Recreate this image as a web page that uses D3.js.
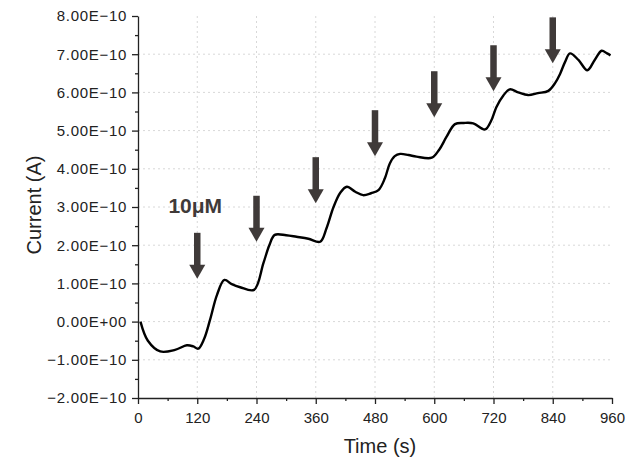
<!DOCTYPE html>
<html>
<head>
<meta charset="utf-8">
<script src="https://cdn.jsdelivr.net/npm/d3@7"></script>
<style>
  body { margin: 0; background: #fff; }
  text { font-family: "Liberation Sans", Arial, sans-serif; }
</style>
</head>
<body>
<div id="chart"></div>
<script>
// time (s) and current (units of 1e-10 A)
const times = [5, 20, 45, 75, 99, 112, 122, 134, 146, 160, 175, 190, 207, 235, 254, 266, 277, 300, 321, 345, 369, 382, 396, 410, 423, 440, 456, 472, 487, 500, 510, 520, 531, 548, 564, 595, 610, 625, 642, 660, 679, 703, 715, 726, 740, 753, 770, 790, 810, 831, 845, 855, 865, 875, 892, 910, 925, 939, 950, 957];
const current = [0.0, -0.5, -0.78, -0.74, -0.62, -0.65, -0.71, -0.45, 0.05, 0.7, 1.09, 0.98, 0.9, 0.83, 1.53, 2.0, 2.27, 2.26, 2.22, 2.17, 2.09, 2.45, 3.0, 3.38, 3.53, 3.4, 3.31, 3.36, 3.44, 3.75, 4.14, 4.33, 4.39, 4.36, 4.32, 4.29, 4.5, 4.84, 5.17, 5.2, 5.19, 5.03, 5.25, 5.62, 5.92, 6.08, 6.0, 5.93, 5.98, 6.04, 6.25, 6.49, 6.8, 7.02, 6.85, 6.58, 6.85, 7.09, 7.02, 6.97];

// injection arrows: time and value at the arrow tip (1e-10 A)
const arrowTimes = [120, 240, 360, 480, 600, 720, 840];
const arrowTips = [1.12, 2.09, 3.1, 4.33, 5.35, 6.03, 6.76];

const xTicks = [0, 120, 240, 360, 480, 600, 720, 840, 960];
const yTicks = [-2, -1, 0, 1, 2, 3, 4, 5, 6, 7, 8];
const yTickLabels = ["\u22122.00E\u221210", "\u22121.00E\u221210", "0.00E+00", "1.00E\u221210", "2.00E\u221210",
  "3.00E\u221210", "4.00E\u221210", "5.00E\u221210", "6.00E\u221210", "7.00E\u221210", "8.00E\u221210"];

const W = 643, H = 460;
const margin = { top: 16, right: 31, bottom: 62, left: 138 };
const width = W - margin.left - margin.right,
    height = H - margin.top - margin.bottom;

const svg = d3.select("#chart").append("svg")
    .attr("width", W)
    .attr("height", H)
    .append("g")
    .attr("transform", "translate(" + margin.left + "," + margin.top + ")");

const x = d3.scaleLinear().domain([0, 960]).range([0, width]);
const y = d3.scaleLinear().domain([-2, 8]).range([height, 0]);

// dotted grid
svg.append("g").selectAll("line")
    .data(xTicks.filter(d => d > 0 && d < 960))
    .enter().append("line")
    .attr("x1", d => x(d)).attr("x2", d => x(d))
    .attr("y1", 0).attr("y2", height)
    .attr("stroke", "#d8d8d8").attr("stroke-dasharray", "2,3");
svg.append("g").selectAll("line")
    .data(yTicks.filter(d => d > -2 && d < 8))
    .enter().append("line")
    .attr("x1", 0).attr("x2", width)
    .attr("y1", d => y(d)).attr("y2", d => y(d))
    .attr("stroke", "#d8d8d8").attr("stroke-dasharray", "2,3");

// axes with minor ticks
const xMinor = d3.range(60, 960, 120);
const yMinor = d3.range(-1.5, 8, 1);

svg.append("g")
    .attr("transform", "translate(0," + height + ")")
    .call(d3.axisBottom(x).tickValues(xTicks).tickSize(6).tickPadding(8).tickSizeOuter(0));
svg.append("g")
    .attr("transform", "translate(0," + height + ")")
    .call(d3.axisBottom(x).tickValues(xMinor).tickSize(3).tickFormat("").tickSizeOuter(0))
    .select(".domain").remove();

const yAxis = svg.append("g")
    .call(d3.axisLeft(y).tickValues(yTicks).tickSize(6).tickPadding(5).tickSizeOuter(0)
        .tickFormat((d, i) => yTickLabels[i]));
svg.append("g")
    .call(d3.axisLeft(y).tickValues(yMinor).tickSize(3).tickFormat("").tickSizeOuter(0))
    .select(".domain").remove();

svg.selectAll(".tick line, .domain").attr("stroke", "#222").attr("stroke-width", 1.3);
svg.selectAll(".tick text").style("font-size", "15px").attr("fill", "#222");
yAxis.selectAll(".tick text").style("letter-spacing", "0.7px");

// axis titles
svg.append("text")
    .attr("x", x(490)).attr("y", height + 55)
    .attr("text-anchor", "middle")
    .style("font-size", "20px").attr("fill", "#222")
    .text("Time (s)");
svg.append("text")
    .attr("transform", "translate(" + (-97) + "," + (y(3) - 2) + ") rotate(-90)")
    .attr("text-anchor", "middle")
    .style("font-size", "20px").attr("fill", "#222")
    .text("Current (A)");

// trace
const pts = times.map((t, i) => ({ t: t, v: current[i] }));
const line = d3.line()
    .x(d => x(d.t))
    .y(d => y(d.v))
    .curve(d3.curveCatmullRom.alpha(0.5));
svg.append("path")
    .datum(pts)
    .attr("fill", "none")
    .attr("stroke", "#000")
    .attr("stroke-width", 2.4)
    .attr("d", line);

// arrows
const arrowLen = 46, headH = 14, headW = 16, shaftW = 6.5;
const arrowColor = "#3f3a39";
const arrows = svg.append("g").selectAll("g")
    .data(arrowTimes.map((t, i) => ({ t: t, v: arrowTips[i] })))
    .enter().append("g")
    .attr("transform", d => "translate(" + x(d.t) + "," + y(d.v) + ")");
arrows.append("rect")
    .attr("x", -shaftW / 2).attr("y", -arrowLen)
    .attr("width", shaftW).attr("height", arrowLen - headH + 1)
    .attr("fill", arrowColor);
arrows.append("path")
    .attr("d", `M${-headW / 2},${-headH}L${headW / 2},${-headH}L0,0Z`)
    .attr("fill", arrowColor);

// concentration label
svg.append("text")
    .attr("x", x(120) - 2).attr("y", y(arrowTips[0]) - arrowLen - 20)
    .attr("text-anchor", "middle")
    .style("font-size", "21px").style("font-weight", "bold")
    .attr("fill", arrowColor)
    .text("10μM");
</script>
</body>
</html>
